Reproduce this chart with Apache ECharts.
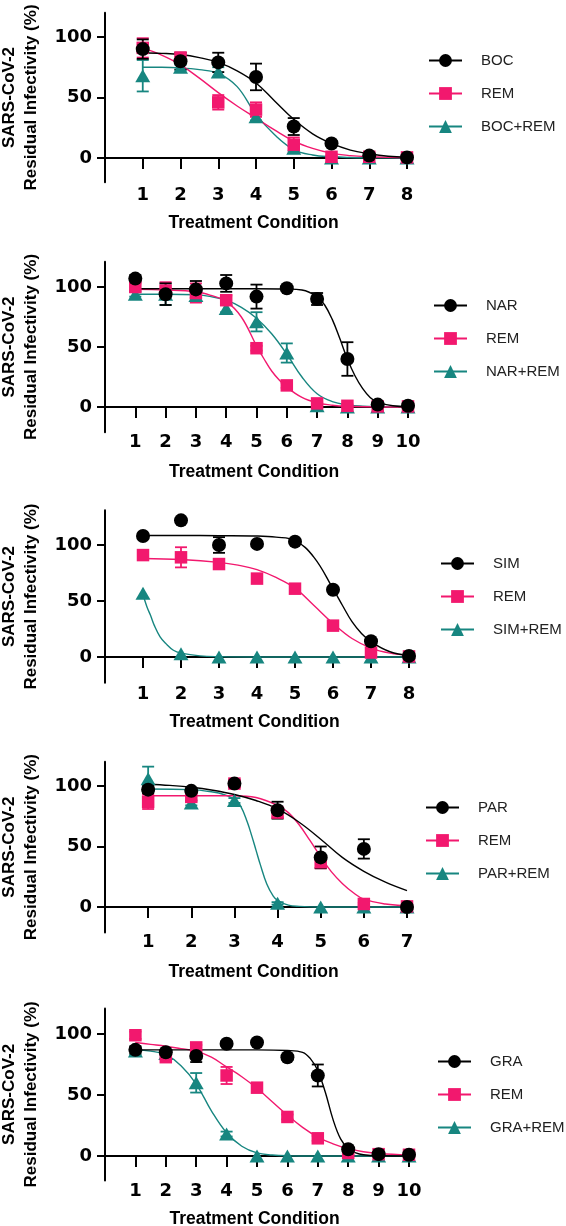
<!DOCTYPE html>
<html>
<head>
<meta charset="utf-8">
<script src="https://cdn.jsdelivr.net/npm/echarts@6/dist/echarts.min.js"></script>
<style>
html,body{margin:0;padding:0;background:#fff;}
#chart{width:566px;height:1226px;}
</style>
</head>
<body>
<div id="chart"></div>
<script>
// ---------- data ----------
const X_TITLE = 'Treatment Condition';
const Y_TITLE = 'SARS-CoV-2\nResidual Infectivity (%)';
const Y_TICKS = [0, 50, 100];

// Panel 1
const P1_NAMES = ['BOC', 'REM', 'BOC+REM'];
const P1_X = [1, 2, 3, 4, 5, 6, 7, 8];
const BOC = [90, 80, 79, 67, 26, 12, 2, 0.5];
const BOC_ERR = [8, 7, 8, 11, 7, 2, 1, 1];
const REM_1 = [91, 83, 46, 40, 11, 1, 1, 0.5];
const REM_1_ERR = [8, 4, 6, 6, 6, 1, 1, 1];
const BOCREM = [68, 75, 71, 34, 8, 0, 0, 0];
const BOCREM_ERR = [13, 2, 4, 3, 2, 0, 0, 0];
const BOC_FIT = [[1,87],[1.5,86.5],[2,85.5],[2.5,83],[3,79],[3.5,72],[4,62],[4.5,47],[5,32],[5.5,20],[6,12],[6.5,6.5],[7,3.5],[7.5,1.5],[8,0.7]];
const REM_1_FIT = [[1,91],[1.5,85],[2,77],[2.5,66],[3,54],[3.5,43],[4,33],[4.5,23],[5,14],[5.5,8],[6,4],[6.5,2],[7,1],[7.5,0.5],[8,0.3]];
const BOCREM_FIT = [[1,75],[1.5,75],[2,74.5],[2.5,73],[3,70],[3.5,59],[4,36],[4.5,19],[5,7],[5.5,2.5],[6,1],[6.5,0.4],[7,0.2],[8,0]];

// Panel 2
const P2_NAMES = ['NAR', 'REM', 'NAR+REM'];
const P2_X = [1, 2, 3, 4, 5, 6, 7, 8, 9, 10];
const NAR = [107, 94, 98, 103, 92, 99, 90, 40, 2, 1];
const NAR_ERR = [3, 9, 7, 7, 10, 2, 5, 14, 1, 1];
const REM_2 = [100, 97, 95, 89, 49, 18, 3, 1, 0.5, 0.5];
const REM_2_ERR = [3, 7, 8, 4, 2, 2, 1, 1, 0, 0];
const NARREM = [94, 94, 93, 82, 71, 45, 1, 0, 0, 0];
const NARREM_ERR = [2, 9, 5, 3, 8, 8, 0, 0, 0, 0];
const NAR_FIT = [[1,98.5],[2,98.5],[3,98.5],[4,98.5],[5,98.5],[6,98.3],[6.5,97.5],[7,92],[7.25,85],[7.5,73],[7.75,57],[8,40],[8.25,26],[8.5,15.5],[8.75,8],[9,4],[9.5,1],[10,0.3]];
const REM_2_FIT = [[1,98],[2,97.5],[3,96],[3.5,93],[4,88],[4.5,75],[5,51],[5.25,40],[5.5,30],[5.75,22.5],[6,16.5],[6.5,8],[7,3.5],[7.5,1.5],[8,0.6],[9,0.1],[10,0]];
const NARREM_FIT = [[1,94],[2,94],[3,93.5],[3.5,92],[4,89],[4.5,83],[5,74],[5.5,61],[6,44],[6.5,25],[7,11],[7.5,4.5],[8,1.8],[8.5,0.7],[9,0.3],[10,0]];

// Panel 3
const P3_NAMES = ['SIM', 'REM', 'SIM+REM'];
const P3_X = [1, 2, 3, 4, 5, 6, 7, 8];
const SIM = [108, 122, 100, 101, 103, 60, 14, 1];
const SIM_ERR = [2, 2, 7, 2, 2, 2, 2, 1];
const REM_3 = [91, 89, 83, 70, 61, 28, 4, 0.5];
const REM_3_ERR = [2, 9, 2, 4, 2, 2, 1, 0];
const SIMREM = [57, 3, 0, 0, 0, 0, 0, 0];
const SIMREM_ERR = [0, 0, 0, 0, 0, 0, 0, 0];
const SIM_FIT = [[1,108.5],[2,108.5],[3,108.3],[4,108],[4.5,107],[5,104],[5.5,89],[6,61],[6.25,46],[6.5,31.5],[6.75,21],[7,13.5],[7.5,4.7],[8,1.5]];
const REM_3_FIT = [[1,88],[2,87],[3,84.5],[3.5,82],[4,78],[4.5,71],[5,61.5],[5.5,46],[6,30],[6.5,16.5],[7,8],[7.5,3.5],[8,1.5]];
const SIMREM_FIT = [[1,56],[1.1,45],[1.2,37],[1.3,28],[1.45,18],[1.6,12],[1.8,6],[2,3.5],[2.5,1],[3,0.3],[4,0],[8,0]];

// Panel 4
const P4_NAMES = ['PAR', 'REM', 'PAR+REM'];
const P4_X = [1, 2, 3, 4, 5, 6, 7];
const PAR = [97, 96, 102, 80, 41, 48, 0];
const PAR_ERR = [3, 2, 3, 7, 9, 8, 1];
const REM_4 = [87, 91, 102, 78, 37, 2.5, 0.5];
const REM_4_ERR = [6, 3, 3, 4, 5, 1, 0];
const PARREM = [106, 86, 88, 3, 0, 0, 0];
const PARREM_ERR = [10, 2, 2, 1, 0, 0, 0];
const PAR_FIT = [[1,101.5],[1.5,100.5],[2,99],[2.5,96.5],[3,93],[3.5,88],[4,81],[4.5,70],[5,56],[5.5,41],[6,29.5],[6.5,20.5],[7,13.5]];
const REM_4_FIT = [[1,92],[2,92],[3,92],[3.5,90.5],[4,84],[4.25,78],[4.5,68],[4.75,55],[5,41.5],[5.25,29],[5.5,19.5],[5.75,12],[6,6.5],[6.5,2.5],[7,1]];
const PARREM_FIT = [[1,97.5],[2,97],[2.5,95],[2.75,93],[3,89],[3.15,83],[3.3,70],[3.4,59],[3.5,47],[3.6,35],[3.75,19],[3.9,9],[4,5.5],[4.25,1.5],[4.5,0.5],[5,0],[7,0]];

// Panel 5
const P5_NAMES = ['GRA', 'REM', 'GRA+REM'];
const P5_X = [1, 2, 3, 4, 5, 6, 7, 8, 9, 10];
const GRA = [87, 85, 82, 92, 93, 81, 66, 5.5, 1.5, 1];
const GRA_ERR = [3, 2, 5, 2, 2, 2, 9, 1, 1, 1];
const REM_5 = [99, 81, 89, 66, 56, 32, 14.5, 2.5, 1.5, 1];
const REM_5_ERR = [3, 2, 2, 7, 2, 2, 2, 1, 1, 1];
const GRAREM = [86, 84, 60, 18, 0, 0, 0, 0, 0, 0];
const GRAREM_ERR = [3, 2, 8, 2, 0, 0, 0, 0, 0, 0];
const GRA_FIT = [[1,87],[2,87],[3,87],[4,87],[5,87],[6,86.5],[6.5,85],[6.75,80],[7,70],[7.25,52],[7.5,30],[7.75,14],[8,6],[8.25,2.5],[8.5,1],[9,0.2],[10,0]];
const REM_5_FIT = [[1,93],[1.5,91.5],[2,90],[2.5,88],[3,86],[3.5,81],[4,73],[4.5,65],[5,55.5],[5.5,44.5],[6,33.5],[6.5,23.5],[7,15.5],[7.5,10],[8,6],[8.5,3.5],[9,2],[10,0.7]];
const GRAREM_FIT = [[1,87],[1.5,86],[2,83],[2.5,74],[3,59],[3.5,37],[4,19],[4.5,8],[5,2.5],[5.5,0.8],[6,0.2],[7,0],[10,0]];

// ---------- styling / layout ----------
const FONT = 'Liberation Sans, Arial, sans-serif';
const TICK_FONT = 'DejaVu Sans, sans-serif';
const COLORS = ['#000000', '#F2186E', '#178680'];
const SYMBOLS = ['circle', 'rect', 'triangle'];
const SIZES = [14, 12.5, [15, 13]];

const PANELS = [
  { names: P1_NAMES, x: P1_X, vals: [BOC, REM_1, BOCREM], errs: [BOC_ERR, REM_1_ERR, BOCREM_ERR], fits: [BOC_FIT, REM_1_FIT, BOCREM_FIT],
    y0: 158, k: 1.21, ymin: -20, ymax: 120, xEnd: 407, labelY: 195, nameY: 221, legLeft: 428, legTop: 53 },
  { names: P2_NAMES, x: P2_X, vals: [NAR, REM_2, NARREM], errs: [NAR_ERR, REM_2_ERR, NARREM_ERR], fits: [NAR_FIT, REM_2_FIT, NARREM_FIT],
    y0: 407, k: 1.2, ymin: -21, ymax: 121, xEnd: 408, labelY: 441.5, nameY: 470, legLeft: 433, legTop: 298 },
  { names: P3_NAMES, x: P3_X, vals: [SIM, REM_3, SIMREM], errs: [SIM_ERR, REM_3_ERR, SIMREM_ERR], fits: [SIM_FIT, REM_3_FIT, SIMREM_FIT],
    y0: 657, k: 1.12, ymin: -23, ymax: 131, xEnd: 409, labelY: 694, nameY: 720, legLeft: 440, legTop: 556 },
  { names: P4_NAMES, x: P4_X, vals: [PAR, REM_4, PARREM], errs: [PAR_ERR, REM_4_ERR, PARREM_ERR], fits: [PAR_FIT, REM_4_FIT, PARREM_FIT],
    y0: 907, k: 1.21, ymin: -21, ymax: 120, xEnd: 407, labelY: 941.5, nameY: 970, legLeft: 425, legTop: 800 },
  { names: P5_NAMES, x: P5_X, vals: [GRA, REM_5, GRAREM], errs: [GRA_ERR, REM_5_ERR, GRAREM_ERR], fits: [GRA_FIT, REM_5_FIT, GRAREM_FIT],
    y0: 1156, k: 1.22, ymin: -20, ymax: 121, xEnd: 409, labelY: 1190.5, nameY: 1217, legLeft: 437, legTop: 1054 }
];

const AXIS_X0 = 105;   // pixel of x = 0 (y-axis line)
const OVERHANG = 5;    // x-axis line extends left past the y-axis
const GRID_LEFT = AXIS_X0 - OVERHANG;

const option = {
  backgroundColor: '#ffffff',
  animation: false,
  grid: [], xAxis: [], yAxis: [], legend: [], series: []
};

PANELS.forEach((p, i) => {
  const n = p.x[p.x.length - 1];
  const s = (p.xEnd - AXIS_X0) / n;
  const top = p.y0 - p.ymax * p.k;
  const height = (p.ymax - p.ymin) * p.k;
  const bottom = top + height;
  option.grid.push({
    left: GRID_LEFT, top: top, width: OVERHANG + n * s, height: height,
    containLabel: false, outerBoundsMode: 'none'
  });
  option.xAxis.push({
    gridIndex: i, type: 'value', min: -OVERHANG / s, max: n,
    axisLine: { show: true, onZero: true, lineStyle: { color: '#000', width: 2 } },
    axisTick: { show: true, customValues: p.x, length: 11, lineStyle: { color: '#000', width: 2 } },
    axisLabel: { customValues: p.x, margin: p.labelY - bottom - 8.5, fontSize: 18, fontWeight: 'bold', color: '#000', fontFamily: TICK_FONT },
    splitLine: { show: false },
    name: X_TITLE, nameLocation: 'middle', nameGap: p.nameY - bottom - 7,
    nameTextStyle: { fontSize: 17.5, fontWeight: 'bold', color: '#000', fontFamily: FONT }
  });
  option.yAxis.push({
    gridIndex: i, type: 'value', min: p.ymin, max: p.ymax,
    axisLine: { show: true, onZero: true, lineStyle: { color: '#000', width: 2 } },
    axisTick: { show: true, customValues: Y_TICKS, length: 8, lineStyle: { color: '#000', width: 2 } },
    axisLabel: { customValues: Y_TICKS, margin: 8, fontSize: 18, fontWeight: 'bold', color: '#000', fontFamily: TICK_FONT },
    splitLine: { show: false },
    name: Y_TITLE, nameLocation: 'middle', nameRotate: 90, nameGap: 58,
    nameTextStyle: { fontSize: 17, fontWeight: 'bold', color: '#000', fontFamily: FONT, lineHeight: 22 }
  });
  option.legend.push({
    orient: 'vertical', left: p.legLeft, top: p.legTop, padding: 0,
    itemWidth: 33, itemHeight: 16, itemGap: 18,
    selectedMode: false,
    data: p.names,
    textStyle: { fontSize: 15, color: '#222', fontFamily: FONT, padding: [0, 0, 0, 14] }
  });

  // draw order: combination (teal) first, then REM (pink), then drug (black) on top
  [2, 1, 0].forEach(g => {
    const color = COLORS[g];
    option.series.push({
      type: 'line', name: p.names[g], xAxisIndex: i, yAxisIndex: i,
      data: p.fits[g], smooth: 0.4,
      symbol: SYMBOLS[g], symbolSize: SIZES[g], showSymbol: false,
      lineStyle: { color: color, width: 1.4 }, itemStyle: { color: color },
      silent: true, z: 2
    });
  });
  [2, 1, 0].forEach(g => {
    const color = COLORS[g];
    option.series.push({
      type: 'custom', xAxisIndex: i, yAxisIndex: i, silent: true, z: 3,
      encode: { x: 0, y: 1 },
      data: p.x.map((xv, j) => [xv, p.vals[g][j], p.errs[g][j]]),
      renderItem: function (params, api) {
        const xv = api.value(0), yv = api.value(1), e = api.value(2);
        if (!e) return null;
        const t = api.coord([xv, yv + e]);
        const b = api.coord([xv, yv - e]);
        const hw = 6;
        const st = { stroke: color, lineWidth: 1.8 };
        return { type: 'group', children: [
          { type: 'line', shape: { x1: t[0], y1: t[1], x2: b[0], y2: b[1] }, style: st },
          { type: 'line', shape: { x1: t[0] - hw, y1: t[1], x2: t[0] + hw, y2: t[1] }, style: st },
          { type: 'line', shape: { x1: b[0] - hw, y1: b[1], x2: b[0] + hw, y2: b[1] }, style: st }
        ] };
      }
    });
  });
  [2, 1, 0].forEach(g => {
    const color = COLORS[g];
    option.series.push({
      type: 'scatter', xAxisIndex: i, yAxisIndex: i, silent: true, z: 4,
      data: p.x.map((xv, j) => [xv, p.vals[g][j]]),
      symbol: SYMBOLS[g], symbolSize: SIZES[g],
      itemStyle: { color: color, opacity: 1 }
    });
  });
});

const chart = echarts.init(document.getElementById('chart'), null, { renderer: 'canvas' });
chart.setOption(option);
</script>
</body>
</html>
